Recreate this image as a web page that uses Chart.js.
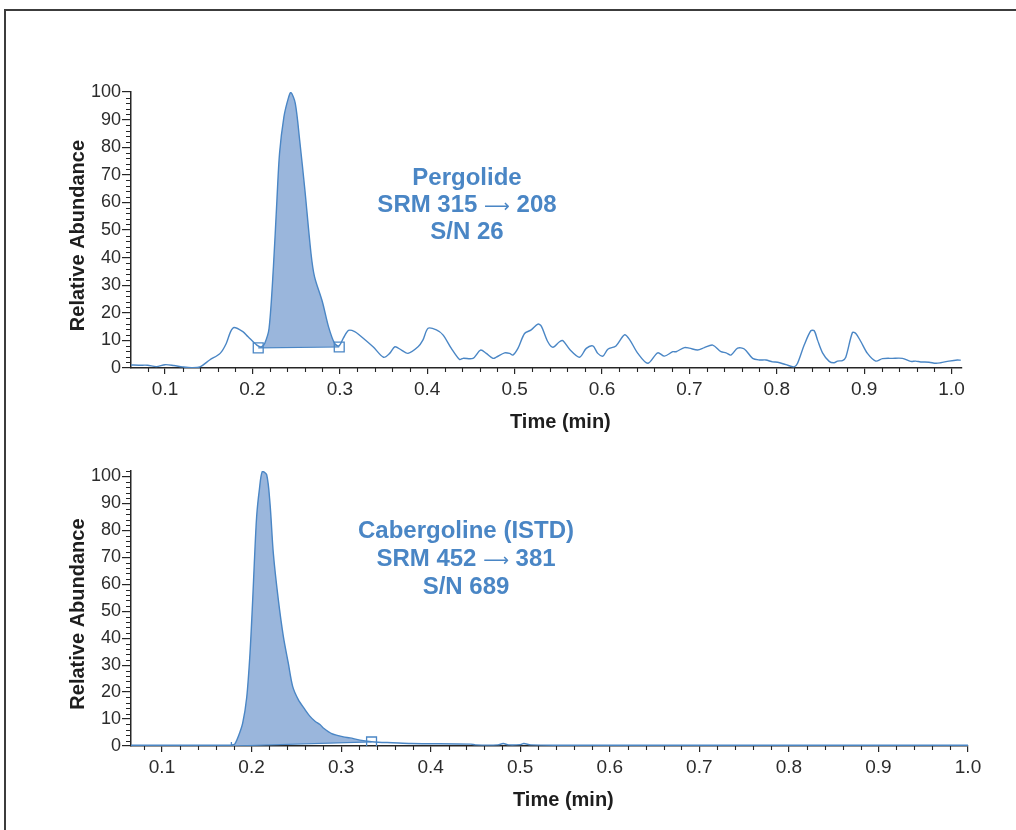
<!DOCTYPE html>
<html><head><meta charset="utf-8">
<script src="https://cdn.jsdelivr.net/npm/chart.js@4.4.1/dist/chart.umd.min.js"></script>
<style>
html,body{margin:0;padding:0;background:#fff;width:1016px;height:830px;overflow:hidden;position:relative}
#frame{position:absolute;left:4px;top:9px;width:2000px;height:2000px;border-top:2px solid #3c3c3c;border-left:2px solid #3c3c3c}
#c1{position:absolute;left:0;top:0}
#c2{position:absolute;left:0;top:440px}
</style></head><body>
<div id="frame"></div>
<canvas id="c1" width="1016" height="440"></canvas>
<canvas id="c2" width="1016" height="378"></canvas>
<script>
// ---------- DATA ----------
const xTickValues = [0.1, 0.2, 0.3, 0.4, 0.5, 0.6, 0.7, 0.8, 0.9, 1.0];
const yTickValues = [0, 10, 20, 30, 40, 50, 60, 70, 80, 90, 100];

const pergolideTime = [0.061,0.07,0.08,0.09,0.10,0.11,0.12,0.13,0.14,0.151,0.163,0.170,0.175,0.179,0.189,0.195,0.205,0.210,0.214,0.219,0.224,0.228,0.231,0.236,0.241,0.244,0.249,0.254,0.260,0.267,0.271,0.280,0.287,0.294,0.299,0.304,0.310,0.317,0.323,0.338,0.350,0.357,0.363,0.3705,0.378,0.3895,0.395,0.401,0.4105,0.418,0.4276,0.437,0.441,0.4524,0.461,0.4676,0.4752,0.479,0.4886,0.4943,0.498,0.5038,0.5114,0.519,0.5267,0.5305,0.538,0.5438,0.5514,0.5552,0.5629,0.5743,0.582,0.5895,0.5952,0.601,0.6067,0.616,0.6257,0.6314,0.641,0.6524,0.6638,0.6714,0.681,0.6848,0.6943,0.70,0.7095,0.7171,0.7267,0.7362,0.742,0.7476,0.7552,0.7629,0.7724,0.78,0.7876,0.7952,0.801,0.8105,0.82,0.8238,0.8314,0.839,0.8429,0.8467,0.8524,0.86,0.8657,0.8695,0.8752,0.879,0.8867,0.8905,0.8962,0.9038,0.9133,0.921,0.9324,0.9438,0.9533,0.959,0.9648,0.9743,0.982,0.9876,0.9971,1.0067,1.0105];
const pergolideAbund = [1.1,1.0,1.0,0.5,1.2,0.9,0.4,0.1,0.4,2.9,5.3,8.9,13.2,14.7,13.2,11.3,8.3,7.6,8.9,14.4,36.7,60.9,77.8,91.0,97.7,99.8,95.9,82.6,64.5,41.5,33.1,24.0,15.0,8.9,8.0,10.8,13.6,13.2,11.8,7.7,3.9,5.3,7.7,6.5,5.3,7.7,10.1,14.4,13.8,12.0,7.1,3.1,3.5,3.5,6.5,5.3,3.5,3.9,5.5,5.3,4.7,7.1,12.5,13.8,15.9,15.2,9.5,7.5,9.5,9.9,6.8,3.9,7.1,8.0,5.3,4.3,6.8,8.0,12.0,10.4,5.3,1.7,5.5,4.3,5.9,5.9,7.4,7.2,6.5,7.4,8.3,5.9,5.5,4.7,7.2,6.9,3.5,2.9,2.9,2.2,2.1,1.2,0.4,1.7,8.3,13.5,13.5,10.1,5.5,2.4,1.9,2.5,2.7,3.9,12.9,12.5,9.6,5.3,2.5,3.4,3.5,3.5,2.4,2.5,2.2,2.1,1.7,1.9,2.5,2.9,2.8];
const pergolideBaseTime = [0.2066, 0.2993];
const pergolideBaseAbund = [7.3, 7.6];
const pergolideNote = ['Pergolide', 'SRM 315 \u2192 208', 'S/N 26'];

const cabergolineTime = [0.0654,0.10,0.15,0.1767,0.1796,0.1815,0.1852,0.1901,0.1946,0.1983,0.2013,0.2031,0.2057,0.2087,0.212,0.2169,0.2206,0.2243,0.2299,0.2355,0.241,0.2459,0.2522,0.2597,0.2653,0.2709,0.2764,0.2801,0.2895,0.3025,0.3099,0.3211,0.334,0.3418,0.3573,0.378,0.445,0.45,0.475,0.481,0.487,0.50,0.504,0.512,0.55,0.7,0.85,1.0];
const cabergolineAbund = [0.3,0.3,0.3,0.3,0.5,0.8,3.5,8.5,18,34.5,54.3,67.9,85.1,95.0,101.8,100.6,90,71.6,54.3,40.7,30.8,22.1,17.2,13.5,11,9.2,8.0,6.7,4.6,3.4,3.0,2.2,1.6,1.4,1.2,0.9,0.7,0.4,0.4,0.9,0.4,0.5,0.9,0.4,0.3,0.3,0.3,0.3];
const cabergolineBaseTime = [0.1775, 0.334];
const cabergolineBaseAbund = [0, 1.5];
const cabergolineNote = ['Cabergoline (ISTD)', 'SRM 452 \u2192 381', 'S/N 689'];

// ---------- STYLE ----------
const AXIS = '#262626', LABEL = '#2c2c2c', TITLE = '#1e1e1e';
const TRACE = '#4a86c5', FILL = '#9ab6dc', NOTE = '#4a86c5';
const FONT = "'Liberation Sans', Arial, Helvetica, sans-serif";
const ARROW_FONT = "'DejaVu Sans', sans-serif";
const ARROW_GLYPH = '\u27F6';

function pts(ts, vs) { return ts.map((t, i) => ({x: t, y: vs[i]})); }
function peakPolygon(ts, vs, bt, bv) {
  const out = [{x: bt[0], y: bv[0]}];
  ts.forEach((t, i) => { if (t > bt[0] && t < bt[1]) out.push({x: t, y: vs[i]}); });
  out.push({x: bt[1], y: bv[1]});
  return out;
}

function minorTicksPlugin() {
  return {
    id: 'minorTicks',
    afterDraw(chart) {
      const {ctx, chartArea: a, scales: {x, y}} = chart;
      ctx.save();
      ctx.strokeStyle = AXIS; ctx.lineWidth = 1.1;
      ctx.beginPath();
      for (let i = Math.ceil(x.min / 0.02 - 1e-9); i * 0.02 <= x.max + 1e-9; i++) {
        if (i % 5 === 0) continue;
        const px = Math.round(x.getPixelForValue(i * 0.02)) + 0.5;
        ctx.moveTo(px, a.bottom); ctx.lineTo(px, a.bottom + 4);
      }
      for (let j = 0; j * 2 <= y.max + 1e-9; j++) {
        if (j % 5 === 0) continue;
        const py = Math.round(y.getPixelForValue(j * 2)) + 0.5;
        ctx.moveTo(a.left, py); ctx.lineTo(a.left - 5, py);
      }
      ctx.stroke();
      ctx.restore();
    }
  };
}

function notePlugin(lines, vx, vy, gap) {
  return {
    id: 'note',
    afterDatasetsDraw(chart) {
      const {ctx, scales: {x, y}} = chart;
      const px = x.getPixelForValue(vx), py = y.getPixelForValue(vy);
      const bold = 'bold 24px ' + FONT, arrowFont = '18px ' + ARROW_FONT;
      ctx.save();
      ctx.fillStyle = NOTE; ctx.textBaseline = 'middle';
      lines.forEach((s, i) => {
        const yy = py + i * gap;
        const parts = s.split('\u2192');
        if (parts.length === 1) {
          ctx.font = bold; ctx.textAlign = 'center'; ctx.fillText(s, px, yy);
          return;
        }
        ctx.textAlign = 'left';
        ctx.font = bold; const w0 = ctx.measureText(parts[0]).width, w2 = ctx.measureText(parts[1]).width;
        ctx.font = arrowFont; const w1 = ctx.measureText(ARROW_GLYPH).width;
        let cx = px - (w0 + w1 + w2) / 2;
        ctx.font = bold; ctx.fillText(parts[0], cx, yy); cx += w0;
        ctx.font = arrowFont; ctx.fillText(ARROW_GLYPH, cx, yy + 2); cx += w1;
        ctx.font = bold; ctx.fillText(parts[1], cx, yy);
      });
      ctx.restore();
    }
  };
}

function build(canvas, c) {
  return new Chart(canvas, {
    type: 'line',
    data: {datasets: [
      {data: pts(c.bt, c.bv), showLine: false, pointStyle: c.markStyle, pointRadius: c.markRadius,
       pointRotation: c.markRot, pointBorderColor: TRACE, pointBackgroundColor: 'rgba(0,0,0,0)', pointBorderWidth: 1.3},
      {data: pts(c.t, c.v), borderColor: TRACE, borderWidth: 1.4, tension: 0.3, pointRadius: 0, fill: false},
      {data: pts(c.bt, c.bv), borderColor: TRACE, borderWidth: 1.2, pointRadius: 0, fill: false, tension: 0},
      {data: peakPolygon(c.t, c.v, c.bt, c.bv), borderColor: 'rgba(0,0,0,0)', borderWidth: 0,
       backgroundColor: FILL, fill: 'shape', tension: 0.3, pointRadius: 0}
    ]},
    options: {
      responsive: false, animation: false, devicePixelRatio: 1,
      layout: {padding: {left: 51, right: c.padRight, top: c.padTop, bottom: 0}},
      plugins: {legend: {display: false}, tooltip: {enabled: false}},
      scales: {
        x: {
          type: 'linear', min: c.xMin, max: c.xMax,
          afterFit(s) { s.height = 72; },
          afterBuildTicks(s) { s.ticks = xTickValues.map(v => ({value: v})); },
          ticks: {callback: v => Number(v).toFixed(1), font: {family: FONT, size: 19}, color: LABEL,
                  padding: 4, maxRotation: 0, autoSkip: false},
          grid: {display: true, drawOnChartArea: false, drawTicks: true, tickLength: 6, color: AXIS, lineWidth: 1.2},
          border: {display: true, color: AXIS, width: 1.5},
          title: {display: true, text: '     Time (min)', font: {family: FONT, size: 20, weight: 'bold'},
                  color: TITLE, padding: {top: 0, bottom: 6}}
        },
        y: {
          min: 0, max: c.yMax,
          afterFit(s) { s.width = 80; },
          afterBuildTicks(s) { s.ticks = yTickValues.map(v => ({value: v})); },
          ticks: {font: {family: FONT, size: 18}, color: LABEL, padding: 1, autoSkip: false},
          grid: {display: true, drawOnChartArea: false, drawTicks: true, tickLength: 9, color: AXIS, lineWidth: 1.2},
          border: {display: true, color: AXIS, width: 1.5},
          title: {display: true, text: 'Relative Abundance  ', font: {family: FONT, size: 20, weight: 'bold'},
                  color: TITLE, padding: {top: 15, bottom: 0}}
        }
      }
    },
    plugins: [minorTicksPlugin(), notePlugin(c.note, c.noteX, c.noteY, c.noteGap)]
  });
}

build(document.getElementById('c1'), {
  t: pergolideTime, v: pergolideAbund, bt: pergolideBaseTime, bv: pergolideBaseAbund,
  markStyle: ['rect', 'rect'], markRadius: [7, 7], markRot: [0, 0],
  xMin: 0.061, xMax: 1.012, yMax: 100, padTop: 92, padRight: 54,
  note: pergolideNote, noteX: 0.4455, noteY: 68.7, noteGap: 27
});
build(document.getElementById('c2'), {
  t: cabergolineTime, v: cabergolineAbund, bt: cabergolineBaseTime, bv: cabergolineBaseAbund,
  markStyle: ['line', 'rect'], markRadius: [4, 7], markRot: [90, 0],
  xMin: 0.0654, xMax: 1.0, yMax: 102, padTop: 31, padRight: 48,
  note: cabergolineNote, noteX: 0.4395, noteY: 79.6, noteGap: 28
});
</script>
</body></html>
